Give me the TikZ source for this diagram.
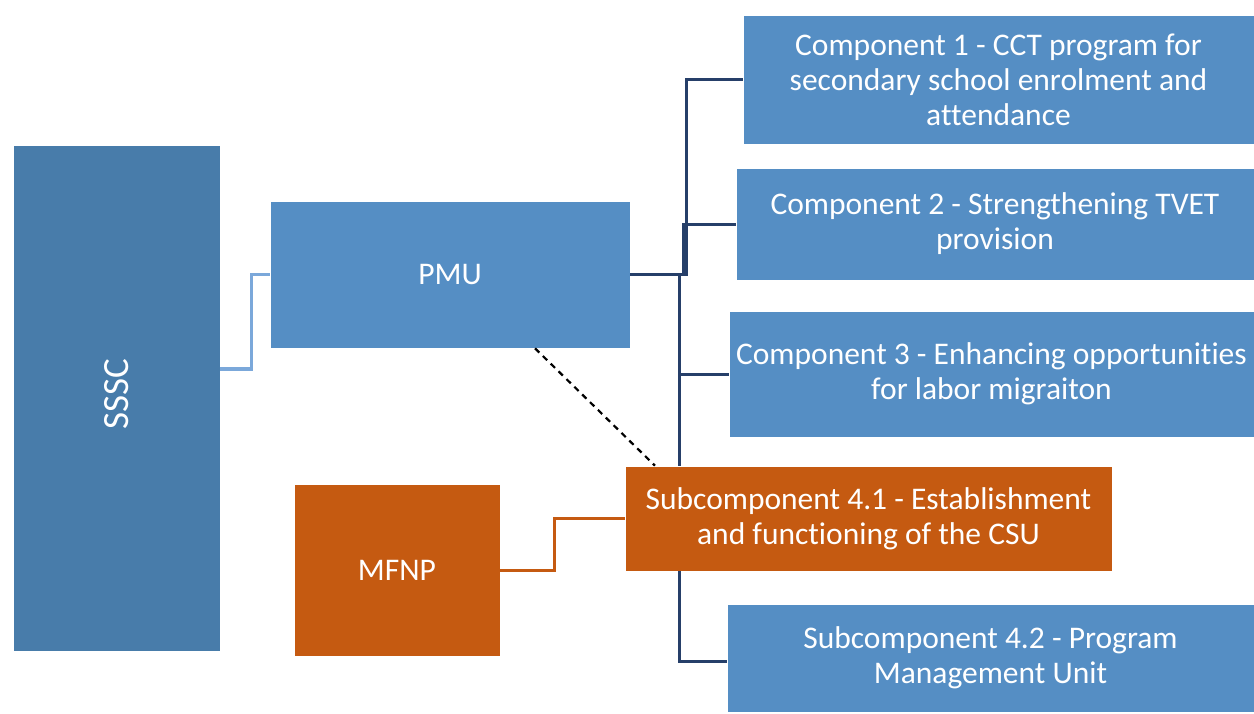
\documentclass[tikz,border=0pt]{standalone}
\usepackage{fontspec}
\setmainfont{Carlito}[Ligatures=NoCommon]
\definecolor{sssc}{HTML}{487CAA}
\definecolor{bluebox}{HTML}{558EC4}
\definecolor{orangebox}{HTML}{C55A11}
\definecolor{navyline}{HTML}{263F69}
\definecolor{lightline}{HTML}{7BA8DA}
\begin{document}
\begin{tikzpicture}[x=1pt,y=-1pt,
  box/.style={rectangle, inner sep=0pt, text=white, align=center,
    font=\fontsize{31.5}{35}\selectfont, draw=white, line width=0.6pt},
  bluestyle/.style={box, fill=bluebox},
  orangestyle/.style={box, fill=orangebox},
  navy/.style={draw=navyline, line width=3pt},
  light/.style={draw=lightline, line width=3.2pt},
  orangeconn/.style={draw=orangebox, line width=3pt},
  dashconn/.style={draw=black, line width=2.2pt, dash pattern=on 6pt off 5pt}]
\useasboundingbox (0,0) rectangle (1254,713);
\fill[white] (0,0) rectangle (1254,713);
\node[box, fill=sssc, minimum width=207pt, minimum height=506pt] (SSSC) at (116.5,398) {};
\node[text=white, font=\fontsize{37}{40}\selectfont, rotate=90] (SSSCt) at (116.5,394) {SSSC};
\node[bluestyle, minimum width=360pt, minimum height=147pt] (PMU) at (450,274.5) {PMU};
\node[bluestyle, minimum width=511pt, minimum height=129pt] (C1) at (998.5,79.5) {Component 1 - CCT program for\\secondary school enrolment and\\attendance};
\node[bluestyle, minimum width=518pt, minimum height=112pt] (C2) at (995,224) {Component 2 - Strengthening TVET\\provision};
\node[bluestyle, minimum width=525pt, minimum height=126pt] (C3) at (991.5,374) {Component 3 - Enhancing opportunities\\for labor migraiton};
\node[orangestyle, minimum width=487pt, minimum height=105pt] (S41) at (868.5,518.5) {Subcomponent 4.1 - Establishment\\and functioning of the CSU};
\node[orangestyle, minimum width=206pt, minimum height=172pt] (MFNP) at (397,570) {MFNP};
\node[bluestyle, minimum width=527pt, minimum height=108pt] (S42) at (990.5,658) {Subcomponent 4.2 - Program\\Management Unit};
% connectors
\draw[light] (SSSC.east |- 0,369) -- ++(31,0) |- (PMU.west);
\draw[orangeconn] (MFNP.east) -- ++(54,0) |- (S41.west);
\draw[navy] (PMU.east) -- ++(56,0) |- (C1.west);
\draw[navy] (PMU.east) -- ++(53,0) |- (C2.west);
\draw[navy] (PMU.east) -- ++(49,0) |- (C3.west);
\draw[navy] (PMU.east) -- ++(49,0) coordinate (j) -- (j |- S41.north);
\draw[navy] (j |- S41.south) |- ([yshift=-3pt]S42.west);
\draw[dashconn] ([xshift=85pt]PMU.south) -- ([xshift=-213.5pt]S41.north);
\end{tikzpicture}
\end{document}
